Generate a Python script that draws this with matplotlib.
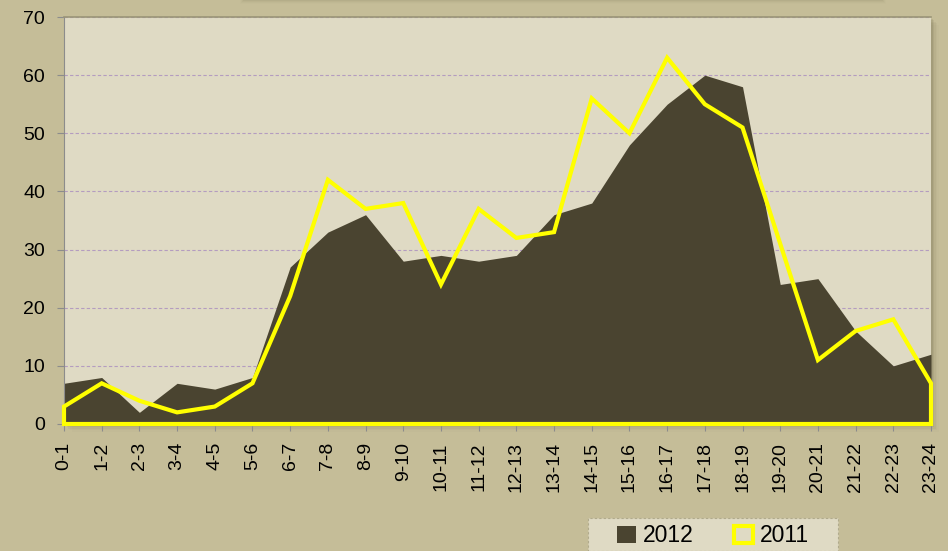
import matplotlib.pyplot as plt
import matplotlib.patches as mpatches
import numpy as np

plt.rcParams['font.family'] = ['Liberation Sans', 'DejaVu Sans']

# hour ranges
hours = ['0-1', '1-2', '2-3', '3-4', '4-5', '5-6', '6-7', '7-8', '8-9', '9-10',
         '10-11', '11-12', '12-13', '13-14', '14-15', '15-16', '16-17', '17-18',
         '18-19', '19-20', '20-21', '21-22', '22-23', '23-24']

# counts per hour
vals_2012 = [7, 8, 2, 7, 6, 8, 27, 33, 36, 28, 29, 28, 29, 36, 38, 48, 55, 60,
             58, 24, 25, 16, 10, 12]
vals_2011 = [3, 7, 4, 2, 3, 7, 22, 42, 37, 38, 24, 37, 32, 33, 56, 50, 63, 55,
             51, 31, 11, 16, 18, 7]

bg = '#C5BD98'
plot_bg = '#DFDAC4'
dark = '#4A4430'
yellow = '#FFFF00'

fig = plt.figure(figsize=(9.48, 5.51), dpi=100, facecolor=bg)

# title box mostly off the top edge, only its soft shadow shows
for i, a in enumerate([0.07, 0.05, 0.035, 0.02]):
    fig.patches.append(mpatches.Rectangle(((243 - i) / 948, 1 - (1 + i) / 551), (640 + 2 * i) / 948, 0.2,
                                          transform=fig.transFigure, facecolor='#6E6848',
                                          alpha=a, edgecolor='none', zorder=-2))

ax_l, ax_b, ax_w, ax_h = 64 / 948, 1 - 424 / 551, 867 / 948, 407 / 551

# plot area shadow
for i, a in enumerate([0.12, 0.09, 0.06, 0.04, 0.02]):
    off = (i + 1) * 1.5
    fig.patches.append(mpatches.Rectangle((ax_l + off / 948, ax_b - off / 551), ax_w, ax_h,
                                          transform=fig.transFigure, facecolor='#5A5438',
                                          alpha=a, edgecolor='none', zorder=-2))

ax = fig.add_axes([ax_l, ax_b, ax_w, ax_h])
ax.set_zorder(2)
ax.set_facecolor(plot_bg)

x = np.arange(len(hours))
ax.fill_between(x, 0, vals_2012, color=dark, linewidth=0, zorder=2)
xs = np.concatenate([x, x[::-1]])
ys = np.concatenate([vals_2011, np.zeros(len(x))])
ax.add_patch(mpatches.Polygon(np.column_stack([xs, ys]), closed=True, facecolor='none',
                              edgecolor=yellow, linewidth=3, joinstyle='miter',
                              zorder=3, clip_on=False))

ax.set_xlim(0, len(hours) - 1)
ax.set_ylim(0, 70)
ax.set_yticks(range(0, 71, 10))
ax.set_xticks(x)
ax.set_xticklabels(hours, rotation=90, fontsize=14)
ax.tick_params(axis='y', labelsize=14, length=5, color='#8C8C8C', pad=8.5)
ax.tick_params(axis='x', length=5, color='#8C8C8C', pad=8)

ax.yaxis.grid(True, color='#B49CC0', linestyle=(0, (3, 2)), linewidth=0.8)
ax.set_axisbelow(True)
ax.spines['right'].set_visible(False)
ax.spines['top'].set_color('#9A9577')
ax.spines['top'].set_linewidth(1.2)
ax.spines['left'].set_color('#8C8C8C')
ax.spines['bottom'].set_color('#8C8C8C')

# legend box
leg_box = mpatches.Rectangle((588 / 948, 0), 250 / 948, 1 - 518 / 551,
                             transform=fig.transFigure, facecolor=plot_bg,
                             edgecolor='#B0AA8C', linewidth=0.8, linestyle=(0, (2, 2)),
                             zorder=3)
fig.patches.append(leg_box)
handles = [mpatches.Patch(facecolor=dark, edgecolor='none', label='2012'),
           mpatches.Patch(facecolor='none', edgecolor=yellow, linewidth=3, label='2011')]
leg = fig.legend(handles=handles, loc='center', bbox_to_anchor=(713 / 948, 1 - 536 / 551),
                 ncol=2, frameon=False, fontsize=16.5, handlelength=0.8, handleheight=0.8,
                 handletextpad=0.3, columnspacing=1.8, borderpad=0)
leg.set_zorder(4)

fig.savefig('out.png', dpi=100, facecolor=bg)
